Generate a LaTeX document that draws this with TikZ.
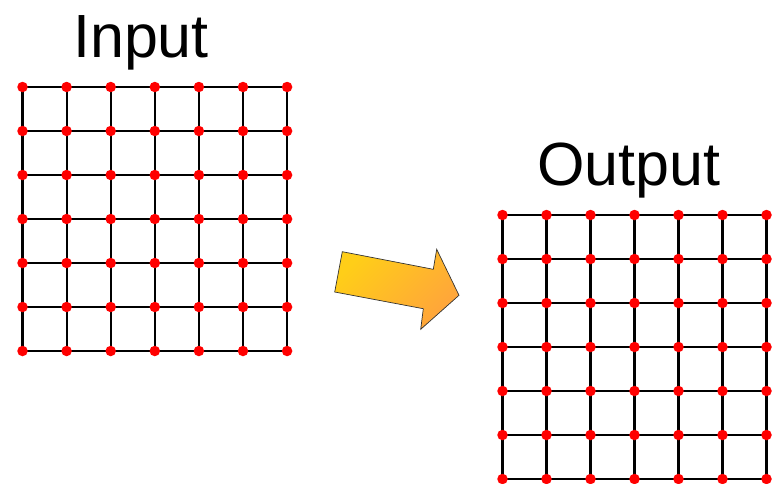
\documentclass[tikz,border=0pt]{standalone}
\usepackage{fontspec}
\setmainfont{Liberation Sans}
\begin{document}
\begin{tikzpicture}[x=1pt,y=-1pt,
  gridline/.style={black,line width=2.2pt},
  dot/.style={circle,fill=red,inner sep=0pt,minimum size=10.5pt},
  title/.style={anchor=base,inner sep=0pt,font=\fontsize{61}{61}\selectfont},
  bigarrow/.style={draw=black!80,line width=0.7pt,top color=arrowyellow,bottom color=arroworange,shading angle=45}]
\definecolor{arrowyellow}{HTML}{FFCE18}
\definecolor{arroworange}{HTML}{FFA43C}
\useasboundingbox (0,0) rectangle (772,483);

% titles
\node[title] (tin) at (141,57) {Input};
\node[title] (tout) at (629,185) {Output};

% grid points: input (i-r-c) and output (o-r-c)
\foreach \r in {0,...,6}{
  \foreach \c in {0,...,6}{
    \coordinate (i-\r-\c) at ({22.5+44.1*\c},{87+44*\r});
    \coordinate (o-\r-\c) at ({502.5+44*\c},{215+44*\r});
  }
}
% grid lines
\foreach \g in {i,o}{
  \foreach \r in {0,...,6}{
    \draw[gridline] (\g-\r-0) -- (\g-\r-6);
    \draw[gridline] (\g-0-\r) -- (\g-6-\r);
  }
}
% red dots
\foreach \g in {i,o}{
  \foreach \r in {0,...,6}{
    \foreach \c in {0,...,6}{
      \node[dot] (\g-dot-\r-\c) at (\g-\r-\c) {};
    }
  }
}

% block arrow
\path[bigarrow] (342.3,251.7) -- (433.3,269.3) -- (436.7,249.3) -- (459,295.3)
  -- (420.7,329.3) -- (423.3,308.7) -- (334.7,292) -- cycle;
\end{tikzpicture}
\end{document}
